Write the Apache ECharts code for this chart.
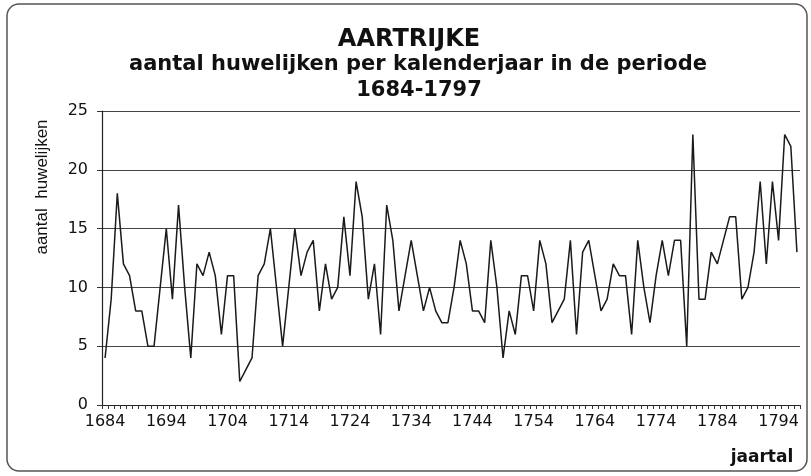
<!DOCTYPE html>
<html>
<head>
<meta charset="utf-8">
<script src="https://cdn.jsdelivr.net/npm/echarts@6/dist/echarts.min.js"></script>
<style>html,body{margin:0;padding:0;background:#fff}#c{width:811px;height:476px}</style>
</head>
<body>
<div id="c"></div>
<script>
var firstYear = 1684;
var lastYear = 1797;
var years = [];
for (var y = firstYear; y <= lastYear; y++) years.push(String(y));

var marriages = [
  4, 9, 18, 12, 11, 8, 8, 5, 5, 10,
  15, 9, 17, 10, 4, 12, 11, 13, 11, 6,
  11, 11, 2, 3, 4, 11, 12, 15, 10, 5,
  10, 15, 11, 13, 14, 8, 12, 9, 10, 16,
  11, 19, 16, 9, 12, 6, 17, 14, 8, 11,
  14, 11, 8, 10, 8, 7, 7, 10, 14, 12,
  8, 8, 7, 14, 10, 4, 8, 6, 11, 11,
  8, 14, 12, 7, 8, 9, 14, 6, 13, 14,
  11, 8, 9, 12, 11, 11, 6, 14, 10, 7,
  11, 14, 11, 14, 14, 5, 23, 9, 9, 13,
  12, 14, 16, 16, 9, 10, 13, 19, 12, 19,
  14, 23, 22, 13
];

var yTicks = [0, 5, 10, 15, 20, 25];

var chart = echarts.init(document.getElementById('c'), null, {renderer: 'canvas'});
chart.setOption({
  animation: false,
  backgroundColor: '#ffffff',
  title: [
    {text: 'AARTRIJKE', left: 404, top: 23, textAlign: 'center',
     textStyle: {fontFamily: 'DejaVu Sans', fontWeight: 'bold', fontSize: 24, color: '#111'}},
    {text: 'aantal huwelijken per kalenderjaar in de periode', left: 413, top: 49, textAlign: 'center',
     textStyle: {fontFamily: 'DejaVu Sans', fontWeight: 'bold', fontSize: 21, color: '#111'}},
    {text: years[0] + '-' + years[years.length - 1], left: 414, top: 75, textAlign: 'center',
     textStyle: {fontFamily: 'DejaVu Sans', fontWeight: 'bold', fontSize: 21, color: '#111'}}
  ],
  graphic: [
    {type: 'rect', shape: {x: 7, y: 4, width: 800, height: 467, r: 12},
     style: {fill: 'none', stroke: '#555', lineWidth: 1.5}, silent: true, z: -1},
    {type: 'text', x: 762, y: 458,
     style: {text: 'jaartal', font: 'bold 17px "DejaVu Sans"', fill: '#111', textAlign: 'center', textVerticalAlign: 'middle'}},
    {type: 'text', x: 42, y: 187, rotation: Math.PI / 2,
     style: {text: 'aantal  huwelijken', font: '17px "Liberation Sans Narrow", "Liberation Sans"', fill: '#111', textAlign: 'center', textVerticalAlign: 'middle'}}
  ],
  grid: {left: 102, right: 11, top: 111, bottom: 71, containLabel: false},
  xAxis: {
    type: 'category',
    data: years,
    boundaryGap: true,
    axisLine: {show: true, lineStyle: {color: '#222', width: 1.2}},
    axisTick: {show: true, interval: 0, length: 4, inside: false, lineStyle: {color: '#333'}},
    axisLabel: {interval: 9, margin: 9, fontFamily: 'DejaVu Sans', fontSize: 16, color: '#111'},
    splitLine: {show: false}
  },
  yAxis: {
    type: 'value',
    min: 0, max: 25, interval: 5,
    axisLine: {show: true, lineStyle: {color: '#222', width: 1.2}},
    axisTick: {show: true, length: 5, lineStyle: {color: '#333'}},
    axisLabel: {margin: 14, fontFamily: 'DejaVu Sans', fontSize: 16, color: '#111',
      formatter: function (v) { return yTicks.indexOf(v) >= 0 ? String(v) : ''; }},
    splitLine: {show: true, lineStyle: {color: '#444', width: 1}}
  },
  series: [{
    type: 'line',
    data: marriages,
    symbol: 'none',
    lineStyle: {color: '#1a1a1a', width: 1.5},
    z: 5
  }]
});
</script>
</body>
</html>
